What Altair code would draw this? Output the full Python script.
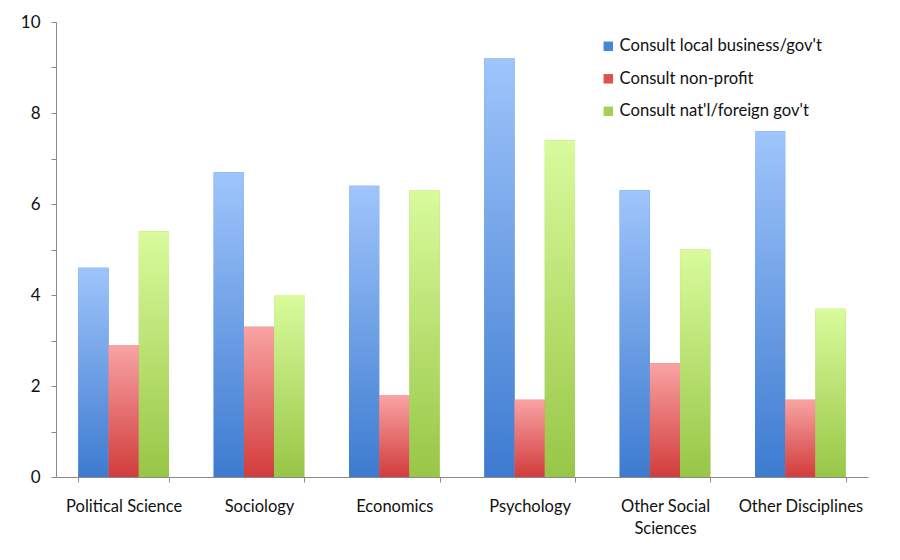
import altair as alt
import pandas as pd

categories = ["Political Science", "Sociology", "Economics", "Psychology",
              "Other Social Sciences", "Other Disciplines"]
series = ["Consult local business/gov't", "Consult non-profit", "Consult nat'l/foreign gov't"]
local_business = [4.6, 6.7, 6.4, 9.2, 6.3, 7.6]
non_profit = [2.9, 3.3, 1.8, 1.7, 2.5, 1.7]
national_gov = [5.4, 4.0, 6.3, 7.4, 5.0, 3.7]

legend_colors = ["#4a86d6", "#dc5252", "#a6cf58"]
grad_top = ["#9fc5fb", "#f9a3a3", "#d9fb9c"]
grad_bottom = ["#3d7bd0", "#d23c3c", "#98c646"]

rows = []
for s, vals in zip(series, [local_business, non_profit, national_gov]):
    for c, v in zip(categories, vals):
        rows.append({"category": c, "series": s, "value": v})
df = pd.DataFrame(rows)

FONT = "Lato"
AXIS_COLOR = "#8a8a8a"

x_enc = alt.X("category:N", sort=categories,
              scale=alt.Scale(paddingInner=0.33, paddingOuter=0.165),
              axis=alt.Axis(title=None, labelAngle=0, tickBand="extent",
                            labelFontSize=16.5, labelFont=FONT, labelColor="#111",
                            labelPadding=16, tickSize=5, domainColor=AXIS_COLOR,
                            tickColor=AXIS_COLOR, labelLineHeight=22, labelLimit=300,
                            labelExpr="datum.label == 'Other Social Sciences' ? ['Other Social', 'Sciences'] : datum.label"))
xo_enc = alt.XOffset("series:N", sort=series, scale=alt.Scale(domain=series))
y_enc = alt.Y("value:Q",
              scale=alt.Scale(domain=[0, 10], nice=False),
              axis=alt.Axis(title=None, values=list(range(0, 11)), grid=False,
                            labelExpr="datum.value % 2 == 0 ? datum.label : ''",
                            labelFontSize=17, labelFont=FONT, labelColor="#111",
                            labelPadding=11, tickSize=5, domainColor=AXIS_COLOR,
                            tickColor=AXIS_COLOR))

base = alt.Chart(df).mark_bar().encode(
    x=x_enc, xOffset=xo_enc, y=y_enc,
    color=alt.Color("series:N", sort=series,
                    scale=alt.Scale(domain=series, range=legend_colors),
                    legend=alt.Legend(title=None, orient="none", legendX=544, legendY=16,
                                      symbolType="square", symbolSize=90,
                                      symbolStrokeWidth=0, labelLimit=400,
                                      labelFontSize=16.6, labelFont=FONT, labelColor="#111",
                                      rowPadding=15.5, labelOffset=3)),
)

layers = [base]
for s, top, bot in zip(series, grad_top, grad_bottom):
    grad = {"gradient": "linear", "x1": 0, "x2": 0, "y1": 0, "y2": 1,
            "stops": [{"offset": 0, "color": top}, {"offset": 1, "color": bot}]}
    layers.append(
        alt.Chart(df).transform_filter(alt.datum.series == s)
        .mark_bar(color=grad)
        .encode(x=x_enc, xOffset=xo_enc, y=y_enc)
    )

chart = alt.layer(*layers).properties(
    width=812, height=455,
    autosize=alt.AutoSizeParams(type="none"),
    padding={"left": 48, "top": 14, "right": 16, "bottom": 70},
    background="white",
).configure_view(stroke=None)

chart.save("out.html", embed_options={"renderer": "svg", "actions": False})
